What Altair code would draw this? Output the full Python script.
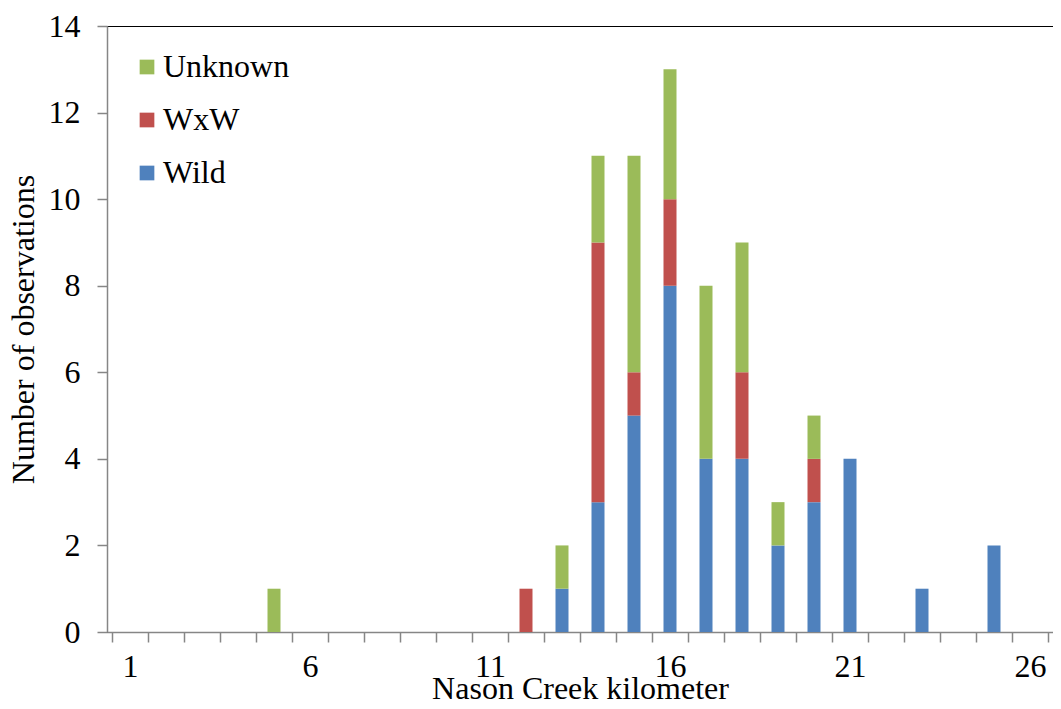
import altair as alt
import pandas as pd

km = [5, 12, 13, 14, 15, 16, 17, 18, 19, 20, 21, 23, 25]
wild = [0, 0, 1, 3, 5, 8, 4, 4, 2, 3, 4, 1, 2]
wxw = [0, 1, 0, 6, 1, 2, 0, 2, 0, 1, 0, 0, 0]
unknown = [1, 0, 1, 2, 5, 3, 4, 3, 1, 1, 0, 0, 0]

series = ["Unknown", "WxW", "Wild"]
colors = ["#9BBB59", "#C0504D", "#4F81BD"]
stack_order = {"Wild": 0, "WxW": 1, "Unknown": 2}

rows = []
for i, k in enumerate(km):
    for name, vals in (("Wild", wild), ("WxW", wxw), ("Unknown", unknown)):
        if vals[i] > 0:
            rows.append({"km": k, "origin": name, "count": vals[i], "ord": stack_order[name]})
df = pd.DataFrame(rows)

x_ticks = [i + 0.5 for i in range(0, 27)] + [1, 6, 11, 16, 21, 26]
y_ticks = list(range(0, 15, 2))

FONT = "Liberation Serif"
FS = 32
AX_GRAY = "#868686"

chart = alt.Chart(df).mark_bar(size=13).encode(
    x=alt.X(
        "km:Q",
        scale=alt.Scale(domain=[0.5, 26.5], nice=False, zero=False),
        axis=alt.Axis(
            title="Nason Creek kilometer",
            values=x_ticks,
            labelExpr="datum.value % 5 == 1 ? format(datum.value, 'd') : ''",
            labelOverlap=False,
            labelFlush=False,
            tickOpacity={"condition": {"test": "datum.value % 1 == 0", "value": 0}, "value": 1},
            tickSize=10,
            labelPadding=9,
            titlePadding=-9,
            grid=False,
        ),
    ),
    y=alt.Y(
        "count:Q",
        stack="zero",
        scale=alt.Scale(domain=[0, 14], nice=False),
        axis=alt.Axis(
            title="Number of observations",
            values=y_ticks,
            tickSize=10,
            labelPadding=17,
            titlePadding=8,
            grid=False,
        ),
    ),
    color=alt.Color(
        "origin:N",
        scale=alt.Scale(domain=series, range=colors),
        legend=alt.Legend(
            title=None,
            orient="none",
            legendX=24,
            legendY=25,
            symbolType="square",
            symbolSize=216,
            symbolStrokeWidth=0,
            labelFontSize=FS,
            labelFont=FONT,
            labelColor="black",
            rowPadding=21,
            labelOffset=0,
            padding=0,
        ),
    ),
    order=alt.Order("ord:Q", sort="ascending"),
).properties(
    width=946,
    height=606,
    autosize=alt.AutoSizeParams(type="none"),
    padding={"left": 99, "top": 18, "right": 0, "bottom": 69},
).configure_view(
    stroke="black", strokeWidth=1
).configure_axis(
    domainColor=AX_GRAY,
    tickColor=AX_GRAY,
    domainWidth=1.5,
    tickWidth=1.5,
    labelFont=FONT,
    titleFont=FONT,
    labelFontSize=FS,
    titleFontSize=FS,
    labelColor="black",
    titleColor="black",
    titleFontWeight="normal",
)

chart.save("out.html", embed_options={"renderer": "svg", "actions": False})
